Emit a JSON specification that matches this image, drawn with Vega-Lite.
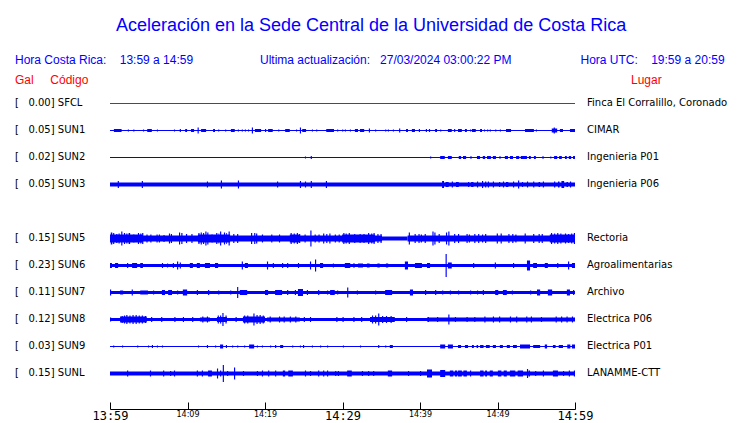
{
  "$schema": "https://vega.github.io/schema/vega-lite/v6.json",
  "width": 465,
  "height": 342,
  "autosize": {"type": "none"},
  "padding": {"left": 110, "top": 67, "right": 165, "bottom": 14},
  "background": "white",
  "title": {"text": "Aceleración en la Sede Central de la Universidad de Costa Rica", "color": "#0000ff", "font": "Liberation Sans", "fontSize": 18, "fontWeight": "normal", "anchor": "middle", "frame": "bounds", "offset": 19},
  "config": {"view": {"stroke": null}},
  "datasets": {
    "stations": [
      {"s": "SFCL", "label": "[\u00a0\u00a0\u00a00.00] SFCL", "lugar": "Finca El Corralillo, Coronado"},
      {"s": "SUN1", "label": "[\u00a0\u00a0\u00a00.05] SUN1", "lugar": "CIMAR"},
      {"s": "SUN2", "label": "[\u00a0\u00a0\u00a00.02] SUN2", "lugar": "Ingenieria P01"},
      {"s": "SUN3", "label": "[\u00a0\u00a0\u00a00.05] SUN3", "lugar": "Ingenieria P06"},
      {"s": "SUN5", "label": "[\u00a0\u00a0\u00a00.15] SUN5", "lugar": "Rectoria"},
      {"s": "SUN6", "label": "[\u00a0\u00a0\u00a00.23] SUN6", "lugar": "Agroalimentarias"},
      {"s": "SUN7", "label": "[\u00a0\u00a0\u00a00.11] SUN7", "lugar": "Archivo"},
      {"s": "SUN8", "label": "[\u00a0\u00a0\u00a00.12] SUN8", "lugar": "Electrica P06"},
      {"s": "SUN9", "label": "[\u00a0\u00a0\u00a00.03] SUN9", "lugar": "Electrica P01"},
      {"s": "SUNL", "label": "[\u00a0\u00a0\u00a00.15] SUNL", "lugar": "LANAMME-CTT"}
    ],
    "header": [
      {"id": "cr", "text": "Hora Costa Rica:\u00a0\u00a0\u00a0\u00a013:59 a 14:59"},
      {"id": "ua", "text": "Ultima actualización:\u00a0\u00a0\u00a027/03/2024 03:00:22 PM"},
      {"id": "utc", "text": "Hora UTC:\u00a0\u00a0\u00a0\u00a019:59 a 20:59"},
      {"id": "gal", "text": "Gal\u00a0\u00a0\u00a0\u00a0\u00a0Código"},
      {"id": "lugar", "text": "Lugar"}
    ],
    "bursts": [
      {"s":"SFCL","t0":0,"t1":60,"a":1},
      {"s":"SUN1","t0":0,"t1":60,"a":1},
      {"s":"SUN2","t0":0,"t1":60,"a":1},
      {"s":"SUN3","t0":0,"t1":60,"a":4},
      {"s":"SUN5","t0":0,"t1":35.1,"a":6},
      {"s":"SUN5","t0":35.1,"t1":38.4,"a":4},
      {"s":"SUN5","t0":38.4,"t1":60,"a":6},
      {"s":"SUN6","t0":0,"t1":60,"a":3},
      {"s":"SUN7","t0":0,"t1":60,"a":3},
      {"s":"SUN8","t0":0,"t1":60,"a":3},
      {"s":"SUN9","t0":0,"t1":60,"a":1},
      {"s":"SUNL","t0":0,"t1":60,"a":4},

      {"s":"SUN1","t0":0.5,"t1":1.5,"a":3},{"s":"SUN1","t0":2.3,"t1":2.45,"a":2},{"s":"SUN1","t0":3.0,"t1":3.15,"a":2},{"s":"SUN1","t0":4.25,"t1":4.4,"a":2},
      {"s":"SUN1","t0":4.8,"t1":5.4,"a":3},{"s":"SUN1","t0":6.05,"t1":6.2,"a":2},{"s":"SUN1","t0":8.25,"t1":8.4,"a":2},{"s":"SUN1","t0":9.0,"t1":9.15,"a":3},
      {"s":"SUN1","t0":9.7,"t1":9.95,"a":3},{"s":"SUN1","t0":10.45,"t1":10.85,"a":3},{"s":"SUN1","t0":11.3,"t1":11.45,"a":6},{"s":"SUN1","t0":11.75,"t1":12.4,"a":3},
      {"s":"SUN1","t0":13.3,"t1":13.55,"a":3},{"s":"SUN1","t0":13.95,"t1":14.1,"a":2},{"s":"SUN1","t0":14.85,"t1":15.0,"a":2},{"s":"SUN1","t0":15.6,"t1":16.1,"a":3},
      {"s":"SUN1","t0":16.5,"t1":16.65,"a":2},{"s":"SUN1","t0":17.0,"t1":17.15,"a":2},{"s":"SUN1","t0":17.4,"t1":17.55,"a":2},{"s":"SUN1","t0":17.8,"t1":17.95,"a":2},
      {"s":"SUN1","t0":18.3,"t1":18.45,"a":6},{"s":"SUN1","t0":18.7,"t1":19.5,"a":3},{"s":"SUN1","t0":20.0,"t1":20.15,"a":3},{"s":"SUN1","t0":20.4,"t1":21.0,"a":3},
      {"s":"SUN1","t0":21.7,"t1":21.85,"a":2},{"s":"SUN1","t0":22.6,"t1":23.2,"a":3},{"s":"SUN1","t0":24.0,"t1":24.15,"a":2},{"s":"SUN1","t0":24.5,"t1":24.65,"a":6},
      {"s":"SUN1","t0":24.8,"t1":25.3,"a":3},{"s":"SUN1","t0":26.05,"t1":26.2,"a":2},{"s":"SUN1","t0":26.6,"t1":26.75,"a":2},{"s":"SUN1","t0":27.9,"t1":28.9,"a":3},
      {"s":"SUN1","t0":29.3,"t1":29.45,"a":2},{"s":"SUN1","t0":29.95,"t1":30.1,"a":2},{"s":"SUN1","t0":30.3,"t1":30.45,"a":2},{"s":"SUN1","t0":30.95,"t1":31.1,"a":2},
      {"s":"SUN1","t0":31.6,"t1":32.0,"a":3},{"s":"SUN1","t0":32.25,"t1":32.8,"a":3},{"s":"SUN1","t0":33.4,"t1":33.55,"a":4},{"s":"SUN1","t0":34.2,"t1":34.35,"a":2},
      {"s":"SUN1","t0":35.5,"t1":35.65,"a":2},{"s":"SUN1","t0":35.85,"t1":36.0,"a":2},{"s":"SUN1","t0":36.5,"t1":36.65,"a":2},{"s":"SUN1","t0":37.3,"t1":37.45,"a":4},
      {"s":"SUN1","t0":38.2,"t1":38.45,"a":3},{"s":"SUN1","t0":38.95,"t1":39.35,"a":3},{"s":"SUN1","t0":39.85,"t1":40.0,"a":3},{"s":"SUN1","t0":40.75,"t1":40.9,"a":3},
      {"s":"SUN1","t0":41.15,"t1":41.3,"a":3},{"s":"SUN1","t0":41.95,"t1":42.2,"a":3},{"s":"SUN1","t0":42.6,"t1":42.75,"a":2},{"s":"SUN1","t0":43.6,"t1":44.1,"a":3},
      {"s":"SUN1","t0":44.4,"t1":44.55,"a":3},{"s":"SUN1","t0":44.9,"t1":45.4,"a":3},{"s":"SUN1","t0":45.8,"t1":46.05,"a":3},{"s":"SUN1","t0":46.45,"t1":46.6,"a":2},
      {"s":"SUN1","t0":46.7,"t1":47.2,"a":3},{"s":"SUN1","t0":47.75,"t1":48.0,"a":3},{"s":"SUN1","t0":48.25,"t1":48.4,"a":2},{"s":"SUN1","t0":48.65,"t1":48.8,"a":2},
      {"s":"SUN1","t0":49.0,"t1":49.15,"a":2},{"s":"SUN1","t0":49.7,"t1":49.85,"a":2},{"s":"SUN1","t0":50.3,"t1":50.45,"a":2},{"s":"SUN1","t0":51.1,"t1":51.75,"a":3},
      {"s":"SUN1","t0":53.55,"t1":54.7,"a":3},{"s":"SUN1","t0":54.95,"t1":55.1,"a":2},{"s":"SUN1","t0":57.0,"t1":57.7,"a":4},{"s":"SUN1","t0":57.25,"t1":57.4,"a":6},
      {"s":"SUN1","t0":58.05,"t1":58.45,"a":3},{"s":"SUN1","t0":59.35,"t1":60.0,"a":3},

      {"s":"SUN2","t0":25.15,"t1":25.3,"a":2},{"s":"SUN2","t0":25.9,"t1":26.05,"a":3},{"s":"SUN2","t0":41.3,"t1":41.45,"a":2},{"s":"SUN2","t0":42.6,"t1":43.2,"a":3},
      {"s":"SUN2","t0":43.6,"t1":44.1,"a":3},{"s":"SUN2","t0":45.0,"t1":45.3,"a":3},{"s":"SUN2","t0":45.55,"t1":45.95,"a":3},{"s":"SUN2","t0":46.45,"t1":46.7,"a":2},
      {"s":"SUN2","t0":47.35,"t1":47.75,"a":3},{"s":"SUN2","t0":48.1,"t1":48.4,"a":3},{"s":"SUN2","t0":48.65,"t1":49.15,"a":3},{"s":"SUN2","t0":49.4,"t1":49.8,"a":3},
      {"s":"SUN2","t0":50.2,"t1":50.45,"a":2},{"s":"SUN2","t0":50.95,"t1":51.35,"a":3},{"s":"SUN2","t0":51.6,"t1":52.0,"a":3},{"s":"SUN2","t0":52.4,"t1":52.8,"a":3},
      {"s":"SUN2","t0":53.0,"t1":53.8,"a":3},{"s":"SUN2","t0":54.05,"t1":54.3,"a":3},{"s":"SUN2","t0":54.7,"t1":54.95,"a":3},{"s":"SUN2","t0":55.75,"t1":56.0,"a":2},
      {"s":"SUN2","t0":56.8,"t1":56.95,"a":2},{"s":"SUN2","t0":57.3,"t1":57.7,"a":3},{"s":"SUN2","t0":57.95,"t1":58.3,"a":3},{"s":"SUN2","t0":58.7,"t1":58.95,"a":3},
      {"s":"SUN2","t0":59.2,"t1":59.5,"a":3},{"s":"SUN2","t0":59.75,"t1":60.0,"a":3},

      {"s":"SUN3","t0":1.0,"t1":1.15,"a":7},{"s":"SUN3","t0":4.1,"t1":4.25,"a":7},{"s":"SUN3","t0":12.5,"t1":12.65,"a":6},{"s":"SUN3","t0":14.3,"t1":14.45,"a":8},
      {"s":"SUN3","t0":16.5,"t1":16.65,"a":8},{"s":"SUN3","t0":21.55,"t1":21.7,"a":6},{"s":"SUN3","t0":24.5,"t1":24.65,"a":7},{"s":"SUN3","t0":25.15,"t1":25.3,"a":6},
      {"s":"SUN3","t0":25.9,"t1":26.05,"a":7},{"s":"SUN3","t0":27.85,"t1":28.0,"a":7},{"s":"SUN3","t0":42.85,"t1":43.1,"a":7},{"s":"SUN3","t0":43.3,"t1":43.7,"a":5},
      {"s":"SUN3","t0":44.1,"t1":44.25,"a":6},{"s":"SUN3","t0":44.65,"t1":45.0,"a":5},{"s":"SUN3","t0":46.2,"t1":46.35,"a":5},{"s":"SUN3","t0":46.6,"t1":46.9,"a":5},
      {"s":"SUN3","t0":47.35,"t1":47.5,"a":6},{"s":"SUN3","t0":48.0,"t1":48.15,"a":7},{"s":"SUN3","t0":48.4,"t1":48.55,"a":6},{"s":"SUN3","t0":48.75,"t1":48.9,"a":6},
      {"s":"SUN3","t0":49.4,"t1":49.55,"a":6},{"s":"SUN3","t0":50.2,"t1":50.35,"a":5},{"s":"SUN3","t0":50.7,"t1":50.85,"a":6},{"s":"SUN3","t0":51.1,"t1":51.4,"a":5},
      {"s":"SUN3","t0":52.0,"t1":52.15,"a":6},{"s":"SUN3","t0":52.65,"t1":52.8,"a":8},{"s":"SUN3","t0":53.15,"t1":53.3,"a":5},{"s":"SUN3","t0":53.8,"t1":53.95,"a":6},
      {"s":"SUN3","t0":54.6,"t1":54.75,"a":6},{"s":"SUN3","t0":55.3,"t1":55.5,"a":5},{"s":"SUN3","t0":55.85,"t1":56.0,"a":6},{"s":"SUN3","t0":57.3,"t1":57.45,"a":6},
      {"s":"SUN3","t0":57.8,"t1":58.0,"a":6},{"s":"SUN3","t0":58.25,"t1":58.6,"a":7},{"s":"SUN3","t0":58.9,"t1":59.1,"a":5},{"s":"SUN3","t0":59.35,"t1":59.5,"a":6},

      {"s":"SUN5","t0":0.0,"t1":4.25,"a":8},{"s":"SUN5","t0":11.35,"t1":15.5,"a":8},{"s":"SUN5","t0":23.2,"t1":24.5,"a":8},{"s":"SUN5","t0":29.95,"t1":34.2,"a":8},{"s":"SUN5","t0":56.75,"t1":60.0,"a":8},
      {"s":"SUN5","t0":0.1,"t1":0.3,"a":12},{"s":"SUN5","t0":0.4,"t1":0.55,"a":11},{"s":"SUN5","t0":0.8,"t1":0.95,"a":9},{"s":"SUN5","t0":1.1,"t1":1.25,"a":10},
      {"s":"SUN5","t0":1.45,"t1":1.6,"a":14},{"s":"SUN5","t0":1.8,"t1":1.95,"a":11},{"s":"SUN5","t0":2.1,"t1":2.25,"a":10},{"s":"SUN5","t0":2.4,"t1":2.6,"a":11},
      {"s":"SUN5","t0":3.0,"t1":3.15,"a":8},{"s":"SUN5","t0":3.6,"t1":3.75,"a":11},{"s":"SUN5","t0":3.9,"t1":4.05,"a":10},{"s":"SUN5","t0":4.15,"t1":4.3,"a":11},
      {"s":"SUN5","t0":4.7,"t1":4.85,"a":8},{"s":"SUN5","t0":5.2,"t1":5.35,"a":8},{"s":"SUN5","t0":6.0,"t1":6.15,"a":8},{"s":"SUN5","t0":6.3,"t1":6.45,"a":8},
      {"s":"SUN5","t0":6.9,"t1":7.05,"a":7},{"s":"SUN5","t0":7.6,"t1":7.75,"a":10},{"s":"SUN5","t0":7.85,"t1":8.0,"a":9},{"s":"SUN5","t0":8.9,"t1":9.05,"a":12},
      {"s":"SUN5","t0":9.2,"t1":9.35,"a":11},{"s":"SUN5","t0":9.8,"t1":9.95,"a":9},{"s":"SUN5","t0":10.5,"t1":10.65,"a":9},{"s":"SUN5","t0":11.4,"t1":11.55,"a":11},
      {"s":"SUN5","t0":11.7,"t1":11.85,"a":12},{"s":"SUN5","t0":12.0,"t1":12.15,"a":11},{"s":"SUN5","t0":12.3,"t1":12.45,"a":14},{"s":"SUN5","t0":12.55,"t1":12.7,"a":12},
      {"s":"SUN5","t0":13.1,"t1":13.25,"a":8},{"s":"SUN5","t0":13.7,"t1":13.85,"a":11},{"s":"SUN5","t0":14.0,"t1":14.1,"a":10},{"s":"SUN5","t0":14.2,"t1":14.35,"a":14},
      {"s":"SUN5","t0":14.7,"t1":14.85,"a":12},{"s":"SUN5","t0":15.0,"t1":15.1,"a":11},{"s":"SUN5","t0":15.3,"t1":15.45,"a":14},{"s":"SUN5","t0":15.9,"t1":16.05,"a":9},
      {"s":"SUN5","t0":16.4,"t1":16.55,"a":9},{"s":"SUN5","t0":18.2,"t1":18.35,"a":11},{"s":"SUN5","t0":18.6,"t1":18.75,"a":11},{"s":"SUN5","t0":18.85,"t1":19.0,"a":10},
      {"s":"SUN5","t0":19.6,"t1":19.75,"a":8},{"s":"SUN5","t0":20.8,"t1":20.95,"a":8},{"s":"SUN5","t0":21.8,"t1":21.95,"a":8},{"s":"SUN5","t0":23.3,"t1":23.45,"a":11},
      {"s":"SUN5","t0":23.7,"t1":23.85,"a":10},{"s":"SUN5","t0":24.1,"t1":24.25,"a":11},{"s":"SUN5","t0":24.4,"t1":24.55,"a":9},{"s":"SUN5","t0":25.1,"t1":25.25,"a":8},
      {"s":"SUN5","t0":25.85,"t1":26.0,"a":16},{"s":"SUN5","t0":26.4,"t1":26.55,"a":8},{"s":"SUN5","t0":26.9,"t1":27.05,"a":8},{"s":"SUN5","t0":27.5,"t1":27.65,"a":10},
      {"s":"SUN5","t0":27.9,"t1":28.05,"a":9},{"s":"SUN5","t0":28.3,"t1":28.45,"a":10},{"s":"SUN5","t0":29.0,"t1":29.15,"a":8},{"s":"SUN5","t0":29.5,"t1":29.65,"a":8},
      {"s":"SUN5","t0":30.1,"t1":30.25,"a":11},{"s":"SUN5","t0":30.4,"t1":30.55,"a":10},{"s":"SUN5","t0":30.8,"t1":30.95,"a":11},{"s":"SUN5","t0":31.5,"t1":31.65,"a":9},
      {"s":"SUN5","t0":32.2,"t1":32.35,"a":9},{"s":"SUN5","t0":32.7,"t1":32.85,"a":9},{"s":"SUN5","t0":33.3,"t1":33.45,"a":11},{"s":"SUN5","t0":33.7,"t1":33.85,"a":10},
      {"s":"SUN5","t0":34.0,"t1":34.15,"a":11},{"s":"SUN5","t0":34.5,"t1":34.65,"a":9},{"s":"SUN5","t0":34.9,"t1":35.05,"a":9},{"s":"SUN5","t0":38.55,"t1":38.7,"a":12},
      {"s":"SUN5","t0":39.3,"t1":39.45,"a":9},{"s":"SUN5","t0":39.8,"t1":39.95,"a":9},{"s":"SUN5","t0":40.1,"t1":40.25,"a":8},{"s":"SUN5","t0":40.6,"t1":40.75,"a":9},
      {"s":"SUN5","t0":41.6,"t1":41.75,"a":14},{"s":"SUN5","t0":41.85,"t1":42.0,"a":12},{"s":"SUN5","t0":42.4,"t1":42.55,"a":9},{"s":"SUN5","t0":43.35,"t1":43.5,"a":12},
      {"s":"SUN5","t0":43.65,"t1":43.8,"a":14},{"s":"SUN5","t0":44.4,"t1":44.55,"a":9},{"s":"SUN5","t0":44.9,"t1":45.05,"a":9},{"s":"SUN5","t0":46.0,"t1":46.15,"a":9},
      {"s":"SUN5","t0":46.3,"t1":46.45,"a":8},{"s":"SUN5","t0":47.0,"t1":47.15,"a":9},{"s":"SUN5","t0":47.5,"t1":47.65,"a":9},{"s":"SUN5","t0":48.0,"t1":48.15,"a":8},
      {"s":"SUN5","t0":48.4,"t1":48.55,"a":9},{"s":"SUN5","t0":49.9,"t1":50.05,"a":10},{"s":"SUN5","t0":50.4,"t1":50.55,"a":10},{"s":"SUN5","t0":51.4,"t1":51.55,"a":9},
      {"s":"SUN5","t0":51.9,"t1":52.05,"a":9},{"s":"SUN5","t0":52.3,"t1":52.45,"a":8},{"s":"SUN5","t0":53.5,"t1":53.65,"a":10},{"s":"SUN5","t0":54.6,"t1":54.75,"a":9},
      {"s":"SUN5","t0":55.3,"t1":55.45,"a":9},{"s":"SUN5","t0":55.7,"t1":55.85,"a":9},{"s":"SUN5","t0":56.9,"t1":57.05,"a":11},{"s":"SUN5","t0":57.3,"t1":57.45,"a":10},
      {"s":"SUN5","t0":57.7,"t1":57.85,"a":11},{"s":"SUN5","t0":58.1,"t1":58.25,"a":10},{"s":"SUN5","t0":58.7,"t1":58.85,"a":10},{"s":"SUN5","t0":59.1,"t1":59.25,"a":9},
      {"s":"SUN5","t0":59.5,"t1":59.65,"a":10},{"s":"SUN5","t0":59.85,"t1":60.0,"a":11},

      {"s":"SUN6","t0":0.0,"t1":0.25,"a":5},{"s":"SUN6","t0":0.65,"t1":1.05,"a":5},{"s":"SUN6","t0":2.2,"t1":2.35,"a":5},{"s":"SUN6","t0":2.85,"t1":3.5,"a":5},
      {"s":"SUN6","t0":3.9,"t1":4.25,"a":5},{"s":"SUN6","t0":6.7,"t1":6.85,"a":5},{"s":"SUN6","t0":7.35,"t1":7.5,"a":4},{"s":"SUN6","t0":8.1,"t1":8.25,"a":5},
      {"s":"SUN6","t0":8.65,"t1":8.8,"a":8},{"s":"SUN6","t0":9.0,"t1":9.15,"a":6},{"s":"SUN6","t0":10.3,"t1":10.7,"a":5},{"s":"SUN6","t0":11.2,"t1":11.6,"a":5},
      {"s":"SUN6","t0":12.25,"t1":12.9,"a":5},{"s":"SUN6","t0":13.55,"t1":13.95,"a":5},{"s":"SUN6","t0":17.0,"t1":17.15,"a":8},{"s":"SUN6","t0":17.4,"t1":17.8,"a":5},
      {"s":"SUN6","t0":20.25,"t1":20.4,"a":8},{"s":"SUN6","t0":21.0,"t1":21.15,"a":5},{"s":"SUN6","t0":22.2,"t1":22.35,"a":5},{"s":"SUN6","t0":22.85,"t1":23.0,"a":5},
      {"s":"SUN6","t0":24.25,"t1":24.4,"a":5},{"s":"SUN6","t0":25.8,"t1":25.95,"a":8},{"s":"SUN6","t0":26.45,"t1":26.6,"a":12},{"s":"SUN6","t0":27.1,"t1":27.5,"a":5},
      {"s":"SUN6","t0":28.75,"t1":28.9,"a":4},{"s":"SUN6","t0":30.3,"t1":31.0,"a":5},{"s":"SUN6","t0":31.35,"t1":31.6,"a":4},{"s":"SUN6","t0":32.0,"t1":32.65,"a":4},
      {"s":"SUN6","t0":33.15,"t1":33.5,"a":4},{"s":"SUN6","t0":34.5,"t1":34.8,"a":4},{"s":"SUN6","t0":35.6,"t1":35.9,"a":4},{"s":"SUN6","t0":38.05,"t1":38.45,"a":8},
      {"s":"SUN6","t0":39.35,"t1":40.25,"a":5},{"s":"SUN6","t0":40.9,"t1":41.3,"a":5},{"s":"SUN6","t0":43.3,"t1":43.45,"a":23},{"s":"SUN6","t0":43.6,"t1":44.1,"a":6},
      {"s":"SUN6","t0":46.85,"t1":47.0,"a":5},{"s":"SUN6","t0":49.65,"t1":49.8,"a":6},{"s":"SUN6","t0":52.0,"t1":52.15,"a":5},{"s":"SUN6","t0":53.8,"t1":54.2,"a":10},
      {"s":"SUN6","t0":54.6,"t1":55.1,"a":5},{"s":"SUN6","t0":56.1,"t1":56.5,"a":5},{"s":"SUN6","t0":57.7,"t1":57.85,"a":5},{"s":"SUN6","t0":59.1,"t1":59.25,"a":8},
      {"s":"SUN6","t0":59.6,"t1":60.0,"a":5},

      {"s":"SUN7","t0":0.0,"t1":0.15,"a":6},{"s":"SUN7","t0":1.3,"t1":1.7,"a":4},{"s":"SUN7","t0":2.8,"t1":2.95,"a":6},{"s":"SUN7","t0":3.9,"t1":4.9,"a":4},
      {"s":"SUN7","t0":5.55,"t1":5.7,"a":4},{"s":"SUN7","t0":6.7,"t1":7.1,"a":5},{"s":"SUN7","t0":7.5,"t1":8.0,"a":5},{"s":"SUN7","t0":8.65,"t1":8.8,"a":4},
      {"s":"SUN7","t0":9.4,"t1":9.95,"a":6},{"s":"SUN7","t0":11.2,"t1":11.35,"a":5},{"s":"SUN7","t0":12.65,"t1":12.8,"a":5},{"s":"SUN7","t0":13.95,"t1":14.1,"a":4},
      {"s":"SUN7","t0":15.5,"t1":15.65,"a":4},{"s":"SUN7","t0":16.4,"t1":16.55,"a":11},{"s":"SUN7","t0":16.75,"t1":17.7,"a":5},{"s":"SUN7","t0":20.0,"t1":20.4,"a":5},
      {"s":"SUN7","t0":21.3,"t1":22.2,"a":5},{"s":"SUN7","t0":22.85,"t1":23.0,"a":5},{"s":"SUN7","t0":23.85,"t1":24.0,"a":5},{"s":"SUN7","t0":24.25,"t1":24.9,"a":7},
      {"s":"SUN7","t0":25.4,"t1":25.55,"a":5},{"s":"SUN7","t0":26.85,"t1":27.0,"a":5},{"s":"SUN7","t0":28.0,"t1":28.15,"a":4},{"s":"SUN7","t0":28.4,"t1":29.0,"a":5},
      {"s":"SUN7","t0":29.3,"t1":29.45,"a":4},{"s":"SUN7","t0":30.6,"t1":30.75,"a":10},{"s":"SUN7","t0":31.85,"t1":32.0,"a":4},{"s":"SUN7","t0":34.2,"t1":34.35,"a":4},
      {"s":"SUN7","t0":35.5,"t1":36.4,"a":5},{"s":"SUN7","t0":38.7,"t1":39.1,"a":6},{"s":"SUN7","t0":40.65,"t1":40.8,"a":5},{"s":"SUN7","t0":41.95,"t1":42.1,"a":5},
      {"s":"SUN7","t0":42.85,"t1":43.0,"a":4},{"s":"SUN7","t0":43.85,"t1":44.0,"a":4},{"s":"SUN7","t0":44.9,"t1":45.05,"a":4},{"s":"SUN7","t0":46.45,"t1":46.6,"a":4},
      {"s":"SUN7","t0":47.35,"t1":47.5,"a":4},{"s":"SUN7","t0":48.1,"t1":48.25,"a":5},{"s":"SUN7","t0":49.7,"t1":50.1,"a":5},{"s":"SUN7","t0":50.7,"t1":51.2,"a":5},
      {"s":"SUN7","t0":51.85,"t1":52.0,"a":4},{"s":"SUN7","t0":54.2,"t1":54.35,"a":4},{"s":"SUN7","t0":55.1,"t1":55.5,"a":6},{"s":"SUN7","t0":56.5,"t1":57.05,"a":6},
      {"s":"SUN7","t0":58.95,"t1":59.35,"a":6},{"s":"SUN7","t0":59.75,"t1":59.9,"a":5},

      {"s":"SUN8","t0":1.3,"t1":4.75,"a":6},{"s":"SUN8","t0":11.6,"t1":12.9,"a":4},{"s":"SUN8","t0":13.8,"t1":15.1,"a":5},{"s":"SUN8","t0":17.15,"t1":20.0,"a":6},
      {"s":"SUN8","t0":20.25,"t1":24.5,"a":4},{"s":"SUN8","t0":33.55,"t1":36.75,"a":5},{"s":"SUN8","t0":40.9,"t1":60.0,"a":4},
      {"s":"SUN8","t0":0.0,"t1":0.15,"a":4},{"s":"SUN8","t0":1.5,"t1":1.65,"a":7},{"s":"SUN8","t0":1.8,"t1":1.95,"a":8},{"s":"SUN8","t0":2.1,"t1":2.25,"a":9},
      {"s":"SUN8","t0":2.5,"t1":2.65,"a":8},{"s":"SUN8","t0":2.9,"t1":3.05,"a":9},{"s":"SUN8","t0":3.3,"t1":3.45,"a":9},{"s":"SUN8","t0":3.7,"t1":3.85,"a":8},
      {"s":"SUN8","t0":4.1,"t1":4.25,"a":8},{"s":"SUN8","t0":4.5,"t1":4.65,"a":7},{"s":"SUN8","t0":5.3,"t1":5.45,"a":5},{"s":"SUN8","t0":6.6,"t1":6.75,"a":5},
      {"s":"SUN8","t0":8.3,"t1":8.45,"a":5},{"s":"SUN8","t0":9.4,"t1":9.55,"a":5},{"s":"SUN8","t0":10.6,"t1":10.75,"a":5},{"s":"SUN8","t0":11.9,"t1":12.05,"a":6},
      {"s":"SUN8","t0":12.5,"t1":12.65,"a":6},{"s":"SUN8","t0":13.9,"t1":14.05,"a":8},{"s":"SUN8","t0":14.2,"t1":14.35,"a":8},{"s":"SUN8","t0":14.5,"t1":14.65,"a":13},
      {"s":"SUN8","t0":14.9,"t1":15.05,"a":8},{"s":"SUN8","t0":16.2,"t1":16.35,"a":5},{"s":"SUN8","t0":17.3,"t1":17.45,"a":8},{"s":"SUN8","t0":17.7,"t1":17.85,"a":8},
      {"s":"SUN8","t0":18.5,"t1":18.65,"a":12},{"s":"SUN8","t0":18.9,"t1":19.05,"a":9},{"s":"SUN8","t0":19.3,"t1":19.45,"a":9},{"s":"SUN8","t0":19.7,"t1":19.85,"a":8},
      {"s":"SUN8","t0":20.6,"t1":20.75,"a":6},{"s":"SUN8","t0":21.8,"t1":21.95,"a":6},{"s":"SUN8","t0":22.4,"t1":22.55,"a":6},{"s":"SUN8","t0":23.2,"t1":23.35,"a":6},
      {"s":"SUN8","t0":23.9,"t1":24.05,"a":6},{"s":"SUN8","t0":25.0,"t1":25.15,"a":5},{"s":"SUN8","t0":25.8,"t1":25.95,"a":5},{"s":"SUN8","t0":29.2,"t1":29.35,"a":5},
      {"s":"SUN8","t0":30.0,"t1":30.15,"a":5},{"s":"SUN8","t0":31.4,"t1":31.55,"a":5},{"s":"SUN8","t0":32.4,"t1":32.55,"a":5},{"s":"SUN8","t0":33.8,"t1":33.95,"a":8},
      {"s":"SUN8","t0":34.2,"t1":34.35,"a":8},{"s":"SUN8","t0":34.6,"t1":34.75,"a":12},{"s":"SUN8","t0":35.1,"t1":35.25,"a":7},{"s":"SUN8","t0":35.6,"t1":35.75,"a":7},
      {"s":"SUN8","t0":36.2,"t1":36.35,"a":7},{"s":"SUN8","t0":38.2,"t1":38.35,"a":5},{"s":"SUN8","t0":41.0,"t1":41.15,"a":5},{"s":"SUN8","t0":42.2,"t1":42.35,"a":5},
      {"s":"SUN8","t0":43.65,"t1":43.8,"a":10},{"s":"SUN8","t0":44.5,"t1":44.65,"a":5},{"s":"SUN8","t0":46.0,"t1":46.15,"a":5},{"s":"SUN8","t0":47.0,"t1":47.15,"a":5},
      {"s":"SUN8","t0":48.3,"t1":48.45,"a":6},{"s":"SUN8","t0":49.4,"t1":49.55,"a":6},{"s":"SUN8","t0":50.2,"t1":50.35,"a":6},{"s":"SUN8","t0":51.6,"t1":51.75,"a":6},
      {"s":"SUN8","t0":52.4,"t1":52.55,"a":6},{"s":"SUN8","t0":53.7,"t1":53.85,"a":6},{"s":"SUN8","t0":54.3,"t1":54.45,"a":6},{"s":"SUN8","t0":55.6,"t1":55.75,"a":5},
      {"s":"SUN8","t0":57.5,"t1":57.65,"a":6},{"s":"SUN8","t0":58.2,"t1":58.35,"a":6},{"s":"SUN8","t0":58.9,"t1":59.05,"a":6},{"s":"SUN8","t0":59.6,"t1":59.75,"a":6},

      {"s":"SUN9","t0":0.4,"t1":0.55,"a":2},{"s":"SUN9","t0":1.55,"t1":1.7,"a":2},{"s":"SUN9","t0":3.5,"t1":3.65,"a":2},{"s":"SUN9","t0":4.9,"t1":5.05,"a":2},
      {"s":"SUN9","t0":5.4,"t1":5.55,"a":3},{"s":"SUN9","t0":6.05,"t1":6.2,"a":2},{"s":"SUN9","t0":6.7,"t1":6.85,"a":2},{"s":"SUN9","t0":11.35,"t1":11.5,"a":2},
      {"s":"SUN9","t0":12.5,"t1":12.65,"a":3},{"s":"SUN9","t0":13.55,"t1":13.7,"a":2},{"s":"SUN9","t0":14.2,"t1":14.6,"a":4},{"s":"SUN9","t0":14.95,"t1":15.1,"a":3},
      {"s":"SUN9","t0":15.75,"t1":15.9,"a":2},{"s":"SUN9","t0":16.4,"t1":16.55,"a":2},{"s":"SUN9","t0":17.3,"t1":17.45,"a":2},{"s":"SUN9","t0":17.95,"t1":18.6,"a":4},
      {"s":"SUN9","t0":18.95,"t1":19.1,"a":2},{"s":"SUN9","t0":19.6,"t1":19.75,"a":2},{"s":"SUN9","t0":20.65,"t1":20.8,"a":2},{"s":"SUN9","t0":21.3,"t1":21.45,"a":3},
      {"s":"SUN9","t0":21.95,"t1":22.35,"a":3},{"s":"SUN9","t0":23.5,"t1":23.65,"a":2},{"s":"SUN9","t0":24.5,"t1":24.65,"a":2},{"s":"SUN9","t0":24.9,"t1":25.05,"a":3},
      {"s":"SUN9","t0":26.05,"t1":26.2,"a":2},{"s":"SUN9","t0":27.1,"t1":27.25,"a":2},{"s":"SUN9","t0":28.0,"t1":28.15,"a":2},{"s":"SUN9","t0":30.05,"t1":30.2,"a":2},
      {"s":"SUN9","t0":32.25,"t1":32.4,"a":2},{"s":"SUN9","t0":34.6,"t1":34.75,"a":3},{"s":"SUN9","t0":35.5,"t1":35.65,"a":2},{"s":"SUN9","t0":36.1,"t1":36.5,"a":3},
      {"s":"SUN9","t0":42.6,"t1":43.25,"a":4},{"s":"SUN9","t0":43.6,"t1":44.25,"a":4},{"s":"SUN9","t0":44.9,"t1":45.3,"a":3},{"s":"SUN9","t0":45.8,"t1":46.2,"a":3},
      {"s":"SUN9","t0":46.7,"t1":46.95,"a":3},{"s":"SUN9","t0":47.3,"t1":47.5,"a":3},{"s":"SUN9","t0":47.75,"t1":48.2,"a":3},{"s":"SUN9","t0":48.5,"t1":49.0,"a":3},
      {"s":"SUN9","t0":49.4,"t1":49.8,"a":3},{"s":"SUN9","t0":50.3,"t1":50.7,"a":3},{"s":"SUN9","t0":51.2,"t1":51.6,"a":3},{"s":"SUN9","t0":52.0,"t1":52.5,"a":3},
      {"s":"SUN9","t0":52.9,"t1":54.2,"a":4},{"s":"SUN9","t0":54.6,"t1":55.5,"a":3},{"s":"SUN9","t0":56.1,"t1":56.4,"a":4},{"s":"SUN9","t0":57.15,"t1":57.5,"a":3},
      {"s":"SUN9","t0":57.9,"t1":58.45,"a":3},{"s":"SUN9","t0":59.0,"t1":59.4,"a":4},{"s":"SUN9","t0":59.6,"t1":60.0,"a":4},

      {"s":"SUNL","t0":2.2,"t1":2.35,"a":6},{"s":"SUNL","t0":5.15,"t1":5.3,"a":6},{"s":"SUNL","t0":6.85,"t1":7.0,"a":6},{"s":"SUNL","t0":7.75,"t1":7.9,"a":5},
      {"s":"SUNL","t0":8.25,"t1":8.4,"a":6},{"s":"SUNL","t0":11.2,"t1":11.35,"a":6},{"s":"SUNL","t0":11.85,"t1":12.0,"a":6},{"s":"SUNL","t0":12.65,"t1":13.15,"a":6},
      {"s":"SUNL","t0":13.8,"t1":13.95,"a":10},{"s":"SUNL","t0":14.2,"t1":14.35,"a":6},{"s":"SUNL","t0":14.55,"t1":14.7,"a":17},{"s":"SUNL","t0":15.1,"t1":15.25,"a":5},
      {"s":"SUNL","t0":16.0,"t1":16.15,"a":12},{"s":"SUNL","t0":17.15,"t1":17.3,"a":5},{"s":"SUNL","t0":18.95,"t1":19.1,"a":5},{"s":"SUNL","t0":19.6,"t1":19.75,"a":6},
      {"s":"SUNL","t0":20.4,"t1":20.55,"a":6},{"s":"SUNL","t0":21.3,"t1":21.45,"a":6},{"s":"SUNL","t0":22.3,"t1":22.6,"a":6},{"s":"SUNL","t0":23.0,"t1":23.6,"a":6},
      {"s":"SUNL","t0":25.15,"t1":25.3,"a":6},{"s":"SUNL","t0":25.8,"t1":25.95,"a":5},{"s":"SUNL","t0":26.85,"t1":27.0,"a":6},{"s":"SUNL","t0":27.5,"t1":27.65,"a":6},
      {"s":"SUNL","t0":28.0,"t1":28.15,"a":6},{"s":"SUNL","t0":29.05,"t1":29.2,"a":5},{"s":"SUNL","t0":29.4,"t1":29.55,"a":5},{"s":"SUNL","t0":30.6,"t1":31.2,"a":6},
      {"s":"SUNL","t0":32.5,"t1":32.65,"a":5},{"s":"SUNL","t0":33.3,"t1":33.45,"a":5},{"s":"SUNL","t0":33.95,"t1":34.1,"a":5},{"s":"SUNL","t0":35.85,"t1":36.4,"a":6},
      {"s":"SUNL","t0":38.45,"t1":38.6,"a":5},{"s":"SUNL","t0":40.0,"t1":40.15,"a":5},{"s":"SUNL","t0":40.9,"t1":41.55,"a":8},{"s":"SUNL","t0":42.6,"t1":43.25,"a":7},
      {"s":"SUNL","t0":43.85,"t1":44.3,"a":6},{"s":"SUNL","t0":44.5,"t1":44.8,"a":6},{"s":"SUNL","t0":44.9,"t1":45.4,"a":6},{"s":"SUNL","t0":45.6,"t1":46.05,"a":6},
      {"s":"SUNL","t0":46.45,"t1":46.6,"a":6},{"s":"SUNL","t0":47.75,"t1":48.2,"a":6},{"s":"SUNL","t0":48.4,"t1":48.65,"a":6},{"s":"SUNL","t0":49.0,"t1":49.4,"a":6},
      {"s":"SUNL","t0":50.05,"t1":50.5,"a":6},{"s":"SUNL","t0":50.8,"t1":51.2,"a":6},{"s":"SUNL","t0":51.6,"t1":52.3,"a":6},{"s":"SUNL","t0":52.6,"t1":53.3,"a":6},
      {"s":"SUNL","t0":53.8,"t1":53.95,"a":9},{"s":"SUNL","t0":54.0,"t1":54.2,"a":6},{"s":"SUNL","t0":54.85,"t1":55.0,"a":5},{"s":"SUNL","t0":55.85,"t1":56.0,"a":6},
      {"s":"SUNL","t0":57.15,"t1":57.8,"a":6},{"s":"SUNL","t0":58.45,"t1":58.6,"a":5},{"s":"SUNL","t0":59.2,"t1":59.35,"a":6},{"s":"SUNL","t0":59.85,"t1":60.0,"a":6}
    ]
  },
  "encoding": {
    "y": {"field": "s", "type": "nominal", "axis": null,
      "scale": {"type": "band", "domain": ["SFCL","SUN1","SUN2","SUN3","SUN4","SUN5","SUN6","SUN7","SUN8","SUN9","SUNL"], "paddingInner": 0, "paddingOuter": 0.8333, "align": 0.511}}
  },
  "layer": [
    {
      "data": {"name": "bursts"},
      "mark": {"type": "bar", "orient": "horizontal"},
      "encoding": {
        "x": {"field": "t0", "type": "quantitative",
          "scale": {"domain": [0, 60], "nice": false, "zero": false},
          "axis": {
            "title": null, "grid": false,
            "values": [0,5,10,15,20,25,30,35,40,45,50,55,60],
            "labelExpr": "datum.value % 10 ? '' : ['13:59','14:09','14:19','14:29','14:39','14:49','14:59'][datum.value / 10]",
            "tickSize": -7, "tickColor": "black", "tickWidth": 1,
            "domainColor": "black", "domainWidth": 1,
            "labelColor": "black",
            "labelFont": {"condition": {"test": "datum.value % 30 === 0", "value": "DejaVu Sans Mono"}, "value": "DejaVu Sans"},
            "labelFontSize": {"condition": {"test": "datum.value % 30 === 0", "value": 12}, "value": 8},
            "labelBaseline": "top", "labelPadding": 8,
            "labelFlush": false, "labelOverlap": false
          }},
        "x2": {"field": "t1"},
        "size": {"field": "a", "type": "quantitative", "scale": {"type": "linear", "domain": [0, 30], "range": [0, 30], "zero": true}, "legend": null},
        "color": {"field": "s", "type": "nominal", "legend": null,
          "scale": {"domain": ["SFCL","SUN1","SUN2","SUN3","SUN4","SUN5","SUN6","SUN7","SUN8","SUN9","SUNL"],
                    "range": ["#ff0000","#0000ff","#0000ff","#0000ff","#0000ff","#0000ff","#0000ff","#0000ff","#0000ff","#0000ff","#0000ff"]}}
      }
    },
    {
      "data": {"name": "stations"},
      "mark": {"type": "text", "align": "left", "baseline": "middle", "dx": -95, "font": "DejaVu Sans", "fontSize": 10, "color": "black"},
      "encoding": {"x": {"datum": 0, "type": "quantitative"}, "text": {"field": "label"}}
    },
    {
      "data": {"name": "stations"},
      "mark": {"type": "text", "align": "left", "baseline": "middle", "dx": 12, "font": "DejaVu Sans", "fontSize": 10, "color": "black"},
      "encoding": {"x": {"datum": 60, "type": "quantitative"}, "text": {"field": "lugar"}}
    },
    {
      "data": {"name": "header"},
      "transform": [{"filter": "datum.id === 'cr'"}],
      "mark": {"type": "text", "align": "left", "baseline": "middle", "dx": -95, "dy": -43, "font": "Liberation Sans", "fontSize": 12, "color": "#0000ff"},
      "encoding": {"x": {"datum": 0, "type": "quantitative"}, "y": {"datum": "SFCL"}, "text": {"field": "text"}}
    },
    {
      "data": {"name": "header"},
      "transform": [{"filter": "datum.id === 'ua'"}],
      "mark": {"type": "text", "align": "left", "baseline": "middle", "dx": 150, "dy": -43, "font": "Liberation Sans", "fontSize": 12, "color": "#0000ff"},
      "encoding": {"x": {"datum": 0, "type": "quantitative"}, "y": {"datum": "SFCL"}, "text": {"field": "text"}}
    },
    {
      "data": {"name": "header"},
      "transform": [{"filter": "datum.id === 'utc'"}],
      "mark": {"type": "text", "align": "left", "baseline": "middle", "dx": 5.5, "dy": -43, "font": "Liberation Sans", "fontSize": 12, "color": "#0000ff"},
      "encoding": {"x": {"datum": 60, "type": "quantitative"}, "y": {"datum": "SFCL"}, "text": {"field": "text"}}
    },
    {
      "data": {"name": "header"},
      "transform": [{"filter": "datum.id === 'gal'"}],
      "mark": {"type": "text", "align": "left", "baseline": "middle", "dx": -95, "dy": -23, "font": "Liberation Sans", "fontSize": 12, "color": "#ff0000"},
      "encoding": {"x": {"datum": 0, "type": "quantitative"}, "y": {"datum": "SFCL"}, "text": {"field": "text"}}
    },
    {
      "data": {"name": "header"},
      "transform": [{"filter": "datum.id === 'lugar'"}],
      "mark": {"type": "text", "align": "left", "baseline": "middle", "dx": 56, "dy": -23, "font": "Liberation Sans", "fontSize": 12, "color": "#ff0000"},
      "encoding": {"x": {"datum": 60, "type": "quantitative"}, "y": {"datum": "SFCL"}, "text": {"field": "text"}}
    }
  ]
}
